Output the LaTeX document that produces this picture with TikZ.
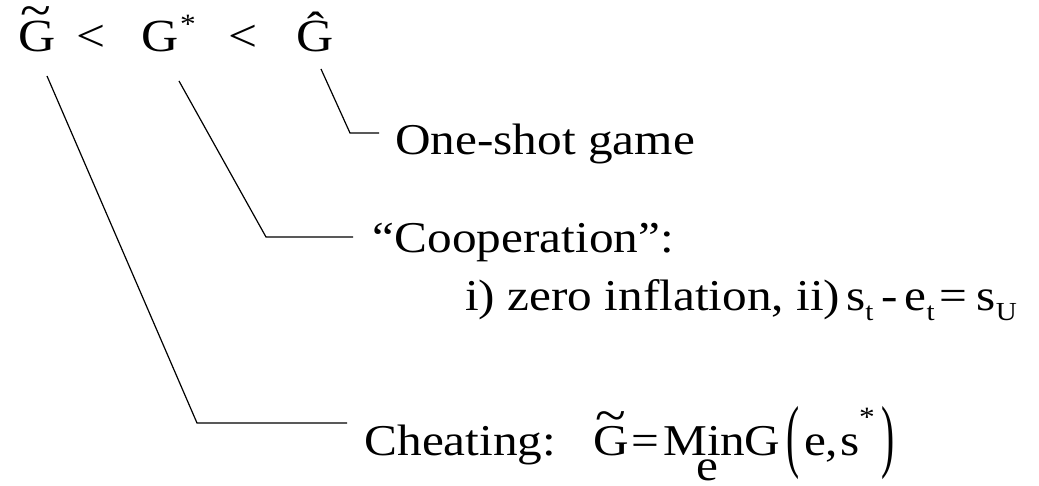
\documentclass[tikz,border=0pt]{standalone}
\usepackage{fontspec}
\setmainfont{Liberation Serif}[FakeStretch=1.12, Ligatures=CommonOff]
\usepackage{graphicx}
\tikzset{
  big/.style={inner sep=0pt, anchor=base west, font=\fontsize{44}{50}\selectfont},
  top/.style={inner sep=0pt, anchor=base west, font=\fontsize{46}{50}\selectfont},
  smallstar/.style={inner sep=0pt, anchor=base west, font=\fontsize{28}{28}\selectfont},
  conn/.style={line width=1.2pt, line join=miter, line cap=butt},
}
\newcommand{\mysub}[1]{\raisebox{-9.5pt}{\fontsize{26}{26}\selectfont #1}}
\newcommand{\bigparen}[1]{\raisebox{-7.7pt}{\scalebox{0.8}[1.84]{#1}}}
\newcommand{\bigtilde}{\scalebox{1.15}[1.15]{\textasciitilde}}
\begin{document}
\begin{tikzpicture}[x=1pt,y=-1pt]
\fill[white] (0,0) rectangle (1039,486);
\useasboundingbox (0,0) rectangle (1039,486);
% top row
\node[top] (gt) at (18.4,52) {G};
\node[big] (gtt) at (20.5,27.5) {\bigtilde};
\node[top] (lt1) at (76.6,52) {<};
\node[top] (gs) at (141.4,52) {G};
\node[smallstar] (star) at (180,33.9) {*};
\node[top] (lt2) at (228.6,52) {<};
\node[top] (gh) at (296.4,52) {Ĝ};
% labels
\node[big, outer xsep=16.3pt] (one) at (379,155) {One-shot game};
\node[big, outer xsep=19.9pt] (coop) at (353,253) {“Cooperation”:};
\node[big] (cb1) at (465,311) {i) zero inflation, ii)};
\node[big] (cb2) at (846,311) {s\mysub{t}};
\node[big] (cb3) at (881.5,311) {-};
\node[big] (cb4) at (904.5,311) {e\mysub{t}};
\node[big] (cb5) at (939.5,311) {=};
\node[big] (cb6) at (976.5,311) {s\mysub{U}};
\node[big, outer xsep=17.6pt] (cheat) at (347,455) {Cheating:};
% formula
\node[big] (fg) at (593.4,455) {G};
\node[big] (fgt) at (595,432.5) {\bigtilde};
\node[big] (feq) at (631.5,455) {=};
\node[big] (fmin) at (663,455) {Min};
\node[big] (fe) at (695.8,480.5) {e};
\node[big] (fg2) at (744,455) {G};
\node[big] (fl) at (786,455) {\bigparen{(}};
\node[big] (fargs) at (803.8,455) {e,\hspace{2pt}s};
\node[smallstar] (fstar) at (858.8,426.9) {*};
\node[big] (fr) at (880.9,455) {\bigparen{)}};
% connectors
\coordinate (s1) at (47,76);
\coordinate (c1) at (197,423);
\coordinate (s2) at (179,81);
\coordinate (c2) at (266,237);
\coordinate (s3) at (321,69);
\coordinate (c3) at (350,133);
\draw[conn] (s1) -- (c1) -- (c1 -| cheat.west);
\draw[conn] (s2) -- (c2) -- (c2 -| coop.west);
\draw[conn] (s3) -- (c3) -- (c3 -| one.west);
\end{tikzpicture}
\end{document}
